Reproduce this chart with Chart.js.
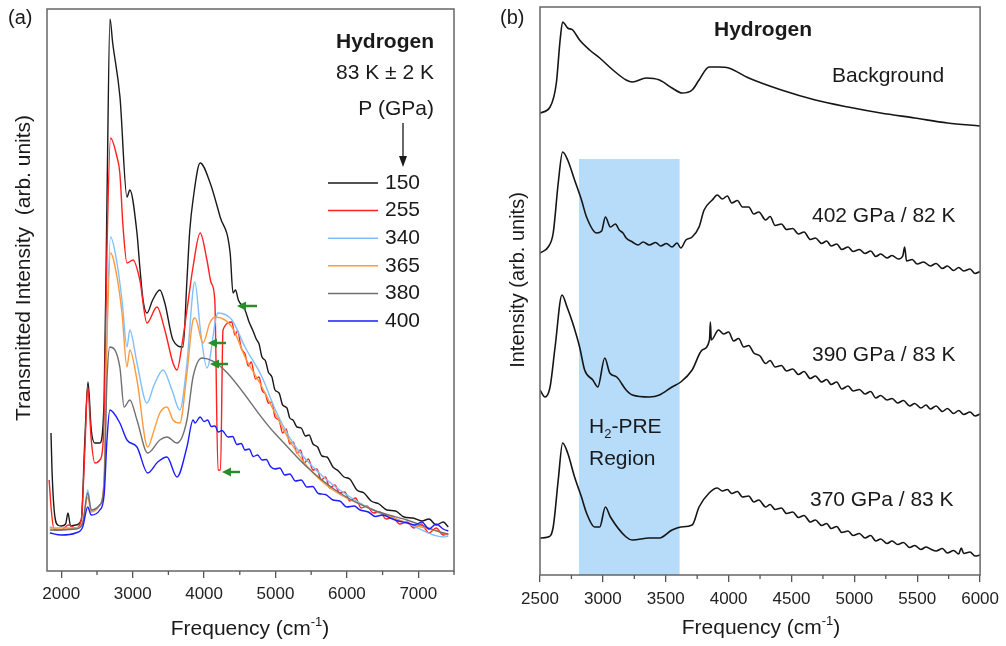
<!DOCTYPE html>
<html>
<head>
<meta charset="utf-8">
<script src="https://cdn.jsdelivr.net/npm/chart.js@4.4.1/dist/chart.umd.min.js"></script>
<style>
  body { margin: 0; background: #fff; }
  #wrapA { position: absolute; left: 0; top: 0; width: 500px; height: 646px; }
  #wrapB { position: absolute; left: 496px; top: 0; width: 510px; height: 646px; }
</style>
</head>
<body>
<div id="wrapA"><canvas id="chartA"></canvas></div>
<div id="wrapB"><canvas id="chartB"></canvas></div>
<script>
const FAMILY = '"Liberation Sans", Arial, Helvetica, sans-serif';
Chart.defaults.font.family = FAMILY;
Chart.defaults.color = '#222';

// ---------- panel (a): transmitted intensity, 83 K, six pressures ----------
const pressures = ['150', '255', '340', '365', '380', '400'];
const colorsA = ['#1a1a1a', '#ff2020', '#80bfff', '#ff9a3c', '#707070', '#1c1cff'];

const freq150 = [1856,1870,1900,1950,2000,2060,2094,2130,2200,2280,2330,2374,2420,2470,2540,2600,2640,2682,2720,2822,2920,2960,3060,3100,3145,3200,3280,3380,3450,3565,3705,3760,3800,3845,3945,4085,4225,4365,4405,4440,4480,
                 4573,4630,4680,4730,4770,4811,4860,4900,4950,4993,5050,5100,5160,5200,5245,5300,5360,5420,5470,5525,5590,5650,5720,5805,5880,5960,6040,6140,6240,6340,6450,6560,6680,6800,6925,7050,7150,7250,7350,7420];
const int150  = [27.6,20.2,12.2,9.2,9,9.4,11.6,9,9.2,10.2,26.2,37.8,28.2,25.6,25.6,34.2,74.2,110.4,105.6,94.8,74.8,76.2,67.6,60.8,54.2,51.6,54.2,56.2,53.6,46.2,44.8,58.2,68.2,74.2,81.6,77.6,70.8,63.6,55.6,56.2,54.2,
                 52.2,49.8,48.2,46.4,45.4,42.8,42,39.8,38.8,36.2,35.6,33.2,32.6,30.6,30.2,28.8,28.6,27,27.2,25.4,24.8,23,22.8,20.8,20,18.8,18.4,16.2,15.6,14,13.4,12.2,12,10.8,10.6,10,10.4,9.2,9.8,8.8];

const freq255 = [1830,1860,1900,2000,2100,2200,2280,2330,2370,2420,2470,2540,2600,2640,2690,2780,2820,2865,2920,3005,3100,3200,3340,3450,3565,3620,3700,3760,3845,3945,4040,4100,4150,4195,4230,4265,
                 4390,4430,4470,4520,4573,4620,4660,4720,4770,4811,4860,4900,4950,4993,5050,5100,5150,5200,5250,5300,5350,5400,5460,5525,5580,5640,5700,5760,5830,5900,5970,6040,6120,6200,6280,6370,6460,6550,6640,6740,6840,6940,7040,7150,7250,7350,7420];
const int255  = [18.2,12.2,8.2,8.2,9.2,8.6,10.2,24.2,36.8,26.2,21.6,22.2,30.2,64.2,86.6,82.8,79.6,68.8,61.6,62.2,58.2,49.6,52.8,48.2,41.6,40.2,46.2,52.2,60.8,67.6,62.2,57.6,54.2,20.2,20.2,48.2,
                 49.8,47.2,48,44.6,43.4,41,41.8,38.4,38.8,36.2,35.4,33.6,33.8,30.8,30.2,27.6,28.4,25.4,25.8,23.6,24.2,21.6,22.4,20.2,20.4,18.2,18.8,16.6,17.2,15.6,15.8,14,14.6,12.6,13,11.6,11.8,10.4,10.8,9.4,9.8,8.6,9.4,7.6,8.6,7.2,7.4];

const freq340 = [1840,2000,2200,2300,2370,2420,2540,2600,2640,2690,2780,2850,2920,2960,3060,3200,3300,3425,3550,3660,3760,3845,3870,3950,4040,4195,4390,4573,4811,4993,5245,5525,5900,6370,6840,7350,7420];
const int340  = [8.8,8.2,8.6,9.2,16.2,12.2,13.2,18.2,48.2,66.8,61.6,54.2,44.8,48.2,41.6,33.6,37.2,40.2,36.2,32.2,41.6,56.2,57.8,48,40.6,51.6,50.2,44.8,38.8,32.4,25.6,20.8,16.2,12.2,9.6,6.8,7];

const freq365 = [1840,2200,2300,2370,2420,2540,2600,2640,2690,2780,2850,2920,2960,3060,3210,3300,3380,3480,3565,3660,3760,3845,3873,3985,4080,4153,4390,4573,4811,4993,5200,5440,5805,6370,6840,7350,7420];
const int365  = [8.6,8.6,9.8,14.8,11.8,13.2,18.2,46.2,63.6,58.8,51.6,40.8,44.2,38.2,24.8,28.2,31.6,32.8,30.2,29.6,39.6,50.2,50.6,45.6,49.6,50.8,48.8,42.8,36.8,31.6,26,21,16.2,12.2,9.6,7.6,7.2];

const freq380 = [1840,2200,2300,2370,2420,2540,2600,2640,2680,2820,2880,2960,3060,3210,3380,3480,3620,3760,3845,3971,4993,5440,5900,6370,6840,7350,7420];
const int380  = [8.2,8.4,9.6,15.6,12.2,13.2,17.2,38.2,44.8,40.8,32.8,34.2,30.2,23.6,26.2,26.8,25.6,30.2,38.8,42.6,27.5,20.8,15.6,12.2,10.2,7.6,7.4];

const freq400 = [1840,2000,2200,2300,2370,2420,2540,2600,2640,2680,2820,2920,3060,3210,3350,3480,3620,3760,3845,3873,
                 3945,4000,4050,4100,4153,4200,4250,4335,4400,4460,4520,4573,4630,4690,4750,4811,4870,4930,4993,5060,5130,5200,5280,5360,5440,5520,5600,5700,5805,5900,6000,6100,6185,6300,6400,6500,6605,6720,6850,6950,7050,7150,7250,7350,7420];
const int400  = [7.6,7.2,7.6,8.8,12.8,11.2,12.2,15.2,26.2,32.2,29.6,26.2,24.8,19.6,21.8,22.8,18.8,24.8,30.2,29.6,
                 30.8,29.9,30.2,28.9,29,27.8,28.1,26.8,26.9,25.3,25.5,24.2,24.4,22.9,23.2,22.2,22.3,20.9,20.4,20.6,19.2,19.4,18,18.2,16.8,16.9,15.5,15.3,14.2,14,12.8,13,12.2,11.8,10.9,11.2,10.6,10,9.6,9.2,9.8,8.4,9.4,8.4,8];

const ticksA = [2000, 3000, 4000, 5000, 6000, 7000];
const minorA = [2500, 3500, 4500, 5500, 6500, 7500];

// green arrows (tip, tail in cm-1, intensity level)
const arrowTip   = [4461, 4054, 4083, 4251];
const arrowTail  = [4741, 4307, 4335, 4503];
const arrowLevel = [53, 45.6, 41.4, 19.8];

// ---------- panel (b): intensity spectra, offset ----------
const freqBg = [2500,2580,2630,2660,2680,2720,2760,2815,2895,2975,3080,3185,3235,3345,3450,3550,3630,3710,3765,3845,3920,4000,4160,4420,4690,4950,5210,5480,5740,6000];
const intBg  = [92.4,93.6,98.4,107,110.6,109.4,109,107,105,103.4,101,99,98.6,99.4,99,97.4,96.4,97,99,101.6,101.6,101.4,99.4,97,95,93.6,92.4,91.4,90.4,89.8];

const freq402 = [2500,2565,2605,2645,2680,2720,2775,2830,2870,
                 2950,2990,3020,3060,3100,3130,3160,3185,3235,3280,3320,3370,3420,3460,3505,3550,3590,3620,3660,3710,3765,3805,3870,
                 3910,3950,3990,4025,4070,4110,4160,4200,4240,4295,4330,4370,4420,4460,4510,4555,4600,4650,4690,4740,4780,4815,4860,4900,4950,4990,5040,5085,5130,5170,5210,5260,5300,5350,5385,5400,5415,5460,5500,5550,5605,5650,5700,5740,5790,5830,5870,5920,5960,6000];
const int402  = [64.4,65.6,68.4,78.4,84.6,83,79,75,71.6,
                 68.4,68.8,71.6,69.6,70.2,69,68.4,67.4,66.6,66,66.6,66,66.5,65.8,66.3,65.6,66.4,65.4,67,67.6,69.6,73,75,
                 76,75.2,75.8,74.4,74.9,73.6,73.6,72.2,72.6,71,71.7,69.9,70.2,69.1,69.3,68.2,68.6,67.1,67.4,66.3,66.8,65.8,66.2,65.1,65.6,64.7,65.1,64.3,64.8,63.7,64.2,63.4,63.9,63.2,63.8,65.6,62.8,63.1,62.2,62.6,61.8,62.3,61.3,61.8,60.9,61.5,60.8,61.2,60.3,60.7];

const freq390 = [2500,2540,2580,2620,2675,2715,2760,2815,2855,2920,2960,3015,3055,3110,3185,3235,3370,3450,3550,3620,3710,3790,3848,3855,3862,3920,
                 3960,4000,4040,4080,4120,4160,4200,4250,4295,4330,4370,4420,4460,4510,4555,4600,4650,4690,4740,4780,4815,4860,4900,4950,4990,5040,5085,5130,5170,5210,5260,5300,5345,5390,5440,5480,5530,5570,5605,5650,5700,5740,5790,5830,5870,5920,5960,6000];
const int390  = [37,35.6,37.6,45.6,56,53.6,50.4,45.6,41,39,37.6,43.4,40.4,39.6,37,36,35.6,36,37.6,38.6,41,45,47,50.6,47,49,
                 48.2,48.6,46.8,47.3,45.6,45.9,44.4,43.8,42.3,42.9,41.6,41.9,40.8,41.2,40.1,40.7,39.3,39.8,38.6,39.1,38.1,38.6,37.2,37.8,36.8,37.1,36.2,36.7,35.4,35.9,35,35.3,34.4,34.9,33.8,34.3,33.4,34,33.2,33.8,32.7,33.3,32.3,32.9,32.1,32.6,31.8,32.2];

const freq370 = [2500,2565,2605,2645,2680,2720,2775,2830,2870,2935,2975,3020,3060,3185,3235,3370,3450,3550,3620,3710,3765,3845,3910,
                 3950,3990,4025,4070,4110,4160,4200,4240,4295,4330,4370,4420,4460,4510,4555,4600,4650,4690,4740,4780,4815,4860,4900,4950,4990,5040,5085,5130,5170,5210,5260,5300,5345,5390,5440,5480,5530,5570,5605,5650,5700,5740,5790,5830,5850,5870,5920,5960,6000];
const int370  = [7.4,7.6,9.6,19,26.4,24.4,19.6,15.6,12.4,9.6,9.6,13.6,11.6,7.6,7,7.4,7.4,9,9.6,10,13.6,16.4,17.4,
                 16.8,17.1,16.3,16.7,15.6,15.8,14.6,15,13.6,14.1,13.1,13.4,12.3,12.6,11.5,11.9,10.6,11,9.9,10.3,9.3,9.7,8.5,8.8,7.9,8.3,7.4,7.9,6.8,7.2,6.3,6.8,6.1,6.5,5.5,5.9,5.1,5.6,5.2,4.8,5.3,4.4,4.9,4.2,5.4,4.3,4.6,3.8,4];

const ticksB = [2500, 3000, 3500, 4000, 4500, 5000, 5500, 6000];
const minorB = [2750, 3250, 3750, 4250, 4750, 5250, 5750];

// shaded H2-PRE region
const regionStart = 2810, regionEnd = 3610, regionTop = 83.2;

// ---------- helpers ----------
function pts(xs, ys) {
    return xs.map((x, i) => ({ x: x, y: ys[i] }));
}

function text(ctx, str, x, y, size, align, bold) {
    ctx.font = (bold ? 'bold ' : '') + size + 'px ' + FAMILY;
    ctx.textAlign = align || 'left';
    ctx.textBaseline = 'middle';
    ctx.fillStyle = '#1a1a1a';
    ctx.fillText(str, x, y);
}

function vText(ctx, str, x, y, size) {
    ctx.save();
    ctx.translate(x, y);
    ctx.rotate(-Math.PI / 2);
    text(ctx, str, 0, 0, size, 'center');
    ctx.restore();
}

// "Frequency (cm-1)" with a superscript
function freqTitle(ctx, cx, cy) {
    const big = '21px ' + FAMILY, small = '13px ' + FAMILY;
    ctx.font = big;
    const w1 = ctx.measureText('Frequency (cm').width;
    const w3 = ctx.measureText(')').width;
    ctx.font = small;
    const w2 = ctx.measureText('-1').width;
    let x = cx - (w1 + w2 + w3) / 2;
    ctx.textAlign = 'left';
    ctx.textBaseline = 'middle';
    ctx.fillStyle = '#1a1a1a';
    ctx.font = big; ctx.fillText('Frequency (cm', x, cy); x += w1;
    ctx.font = small; ctx.fillText('-1', x, cy - 7); x += w2;
    ctx.font = big; ctx.fillText(')', x, cy);
}

const framePlugin = (minors) => ({
    id: 'frame',
    afterDraw(chart) {
        const { ctx, chartArea: a, scales } = chart;
        ctx.save();
        ctx.strokeStyle = '#666';
        ctx.lineWidth = 1.5;
        ctx.strokeRect(a.left, a.top, a.right - a.left, a.bottom - a.top);
        // minor ticks
        ctx.strokeStyle = '#555';
        ctx.lineWidth = 1.3;
        minors.forEach(v => {
            const px = scales.x.getPixelForValue(v);
            ctx.beginPath();
            ctx.moveTo(px, a.bottom);
            ctx.lineTo(px, a.bottom + 4);
            ctx.stroke();
        });
        ctx.restore();
    }
});

function xAxis(min, max, majors, h, pad) {
    return {
        type: 'linear', min: min, max: max,
        afterBuildTicks: s => { s.ticks = majors.map(v => ({ value: v })); },
        afterFit: s => { s.height = h; },
        grid: { drawOnChartArea: false, drawTicks: true, tickLength: 7, color: '#555', lineWidth: 1.3 },
        border: { display: false },
        ticks: {
            font: { size: 17 }, color: '#222', padding: pad, maxRotation: 0, autoSkip: false,
            callback: v => String(v)
        }
    };
}

// ---------- chart (a) ----------
const seriesA = [[freq150, int150], [freq255, int255], [freq340, int340],
                 [freq365, int365], [freq380, int380], [freq400, int400]];

const annotA = {
    id: 'annotA',
    afterDraw(chart) {
        const { ctx, scales } = chart;
        ctx.save();
        // green arrows
        ctx.fillStyle = '#2a8c2a';
        ctx.strokeStyle = '#2a8c2a';
        ctx.lineWidth = 2.5;
        arrowTip.forEach((f, i) => {
            const x1 = scales.x.getPixelForValue(f);
            const x2 = scales.x.getPixelForValue(arrowTail[i]);
            const y = scales.y.getPixelForValue(arrowLevel[i]);
            ctx.beginPath();
            ctx.moveTo(x1 + 6, y);
            ctx.lineTo(x2, y);
            ctx.stroke();
            ctx.beginPath();
            ctx.moveTo(x1, y);
            ctx.lineTo(x1 + 9, y - 4.5);
            ctx.lineTo(x1 + 9, y + 4.5);
            ctx.closePath();
            ctx.fill();
        });

        text(ctx, '(a)', 8, 18, 20, 'left');
        vText(ctx, 'Transmitted Intensity  (arb. units)', 24, 268, 21);
        freqTitle(ctx, 250, 629);

        text(ctx, 'Hydrogen', 434, 42, 21, 'right', true);
        text(ctx, '83 K \u00b1 2 K', 434, 73, 21, 'right');
        text(ctx, 'P (GPa)', 434, 109, 21, 'right');
        // pointer arrow
        ctx.strokeStyle = '#1a1a1a';
        ctx.fillStyle = '#1a1a1a';
        ctx.lineWidth = 1.3;
        ctx.beginPath();
        ctx.moveTo(403, 123);
        ctx.lineTo(403, 158);
        ctx.stroke();
        ctx.beginPath();
        ctx.moveTo(403, 167);
        ctx.lineTo(399, 156);
        ctx.lineTo(407, 156);
        ctx.closePath();
        ctx.fill();

        // legend
        pressures.forEach((p, i) => {
            const y = 183 + i * 27.6;
            ctx.strokeStyle = colorsA[i];
            ctx.lineWidth = 1.5;
            ctx.beginPath();
            ctx.moveTo(328, y);
            ctx.lineTo(378, y);
            ctx.stroke();
            text(ctx, p, 385, y, 21, 'left');
        });
        ctx.restore();
    }
};

new Chart(document.getElementById('chartA'), {
    type: 'line',
    data: {
        datasets: seriesA.map((s, i) => ({
            label: pressures[i],
            data: pts(s[0], s[1]),
            borderColor: colorsA[i],
            borderWidth: 1.4,
            pointRadius: 0,
            cubicInterpolationMode: 'monotone',
            order: seriesA.length - i
        }))
    },
    options: {
        responsive: true,
        maintainAspectRatio: false,
        animation: false,
        events: [],
        layout: { padding: { left: 47, right: 46, top: 9, bottom: 0 } },
        scales: {
            x: xAxis(1800, 7500, ticksA, 75, 6),
            y: { display: false, min: 0, max: 112.4 }
        },
        plugins: { legend: { display: false }, tooltip: { enabled: false } }
    },
    plugins: [framePlugin(minorA), annotA]
});

// ---------- chart (b) ----------
const seriesB = [[freqBg, intBg], [freq402, int402], [freq390, int390], [freq370, int370]];

const regionPlugin = {
    id: 'region',
    beforeDatasetsDraw(chart) {
        const { ctx, chartArea: a, scales } = chart;
        const x1 = scales.x.getPixelForValue(regionStart);
        const x2 = scales.x.getPixelForValue(regionEnd);
        const y1 = scales.y.getPixelForValue(regionTop);
        ctx.save();
        ctx.fillStyle = '#b6dcfa';
        ctx.fillRect(x1, y1, x2 - x1, a.bottom - y1);
        ctx.restore();
    }
};

const annotB = {
    id: 'annotB',
    afterDraw(chart) {
        const { ctx } = chart;
        ctx.save();
        text(ctx, '(b)', 4, 18, 20, 'left');
        vText(ctx, 'Intensity (arb. units)', 22, 280, 20);
        freqTitle(ctx, 265, 628);
        text(ctx, 'Hydrogen', 267, 30, 21, 'center', true);
        text(ctx, 'Background', 336, 76, 21, 'left');
        text(ctx, '402 GPa / 82 K', 316, 216, 21, 'left');
        text(ctx, '390 GPa / 83 K', 316, 355, 21, 'left');
        text(ctx, '370 GPa / 83 K', 314, 500, 21, 'left');
        // H2-PRE with subscript
        text(ctx, 'H', 93, 427, 21, 'left');
        const wH = ctx.measureText('H').width;
        text(ctx, '2', 93 + wH, 434, 13, 'left');
        const w2 = ctx.measureText('2').width;
        text(ctx, '-PRE', 93 + wH + w2, 427, 21, 'left');
        text(ctx, 'Region', 93, 459, 21, 'left');
        ctx.restore();
    }
};

new Chart(document.getElementById('chartB'), {
    type: 'line',
    data: {
        datasets: seriesB.map(s => ({
            data: pts(s[0], s[1]),
            borderColor: '#151515',
            borderWidth: 1.6,
            pointRadius: 0,
            cubicInterpolationMode: 'monotone'
        }))
    },
    options: {
        responsive: true,
        maintainAspectRatio: false,
        animation: false,
        events: [],
        layout: { padding: { left: 44, right: 23, top: 7, bottom: 0 } },
        scales: {
            x: xAxis(2500, 6000, ticksB, 71, 7),
            y: { display: false, min: 0, max: 113.6 }
        },
        plugins: { legend: { display: false }, tooltip: { enabled: false } }
    },
    plugins: [regionPlugin, framePlugin(minorB), annotB]
});
</script>
</body>
</html>
